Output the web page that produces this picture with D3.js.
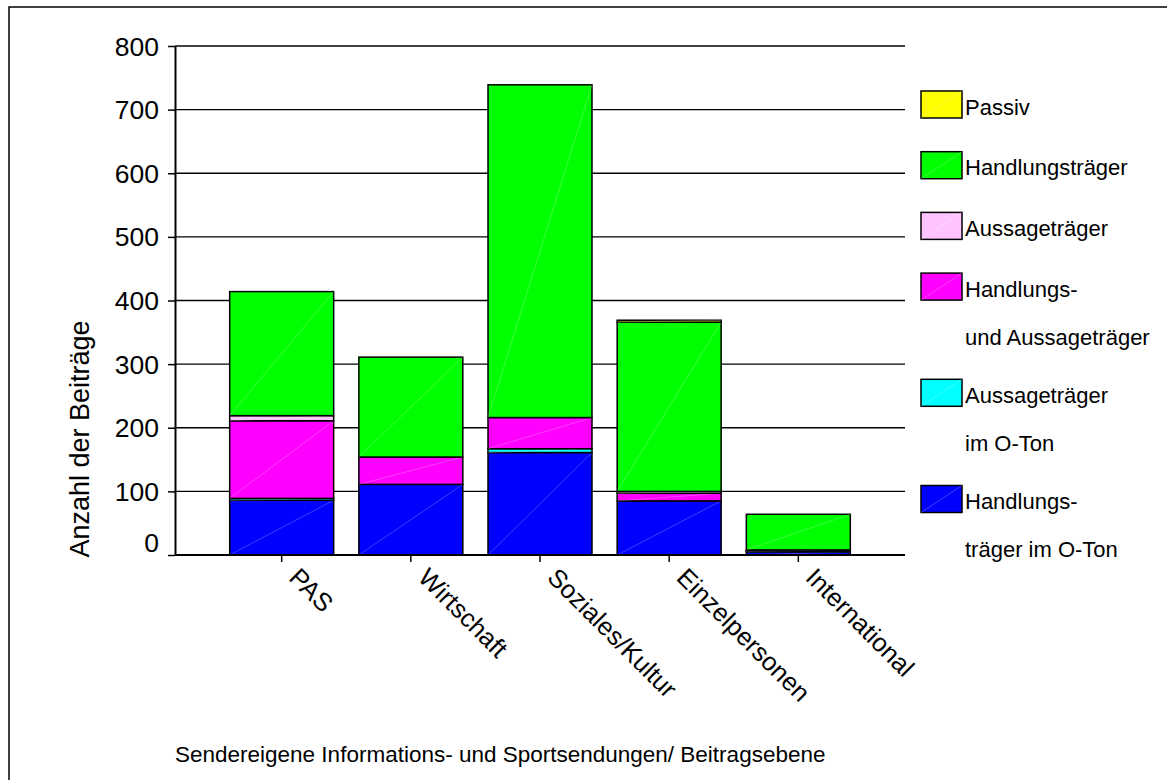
<!DOCTYPE html>
<html>
<head>
<meta charset="utf-8">
<script src="https://cdn.jsdelivr.net/npm/d3@7"></script>
<style>
  html, body { margin: 0; padding: 0; background: #fff; }
  svg { display: block; font-family: "Liberation Sans", Arial, Helvetica, sans-serif; }
</style>
</head>
<body>
<svg id="chart" width="1167" height="780"></svg>
<script>
// ---- data ----
const categories = ["PAS", "Wirtschaft", "Soziales/Kultur", "Einzelpersonen", "International"];

// stack order: bottom -> top
const seriesKeys = ["hoton", "aoton", "hua", "aussage", "handlung", "passiv"];
const handlungstraegerImOTon   = [86, 111, 161, 85, 5];
const aussagetraegerImOTon     = [3, 0, 6, 0, 1];
const handlungsUndAussage      = [122, 43, 49, 12, 2];
const aussagetraeger           = [8, 0, 0, 3, 0];
const handlungstraeger         = [195, 157, 523, 266, 56];
const passiv                   = [0, 0, 0, 3, 0];

const seriesValues = {
  hoton: handlungstraegerImOTon,
  aoton: aussagetraegerImOTon,
  hua: handlungsUndAussage,
  aussage: aussagetraeger,
  handlung: handlungstraeger,
  passiv: passiv
};

const seriesColors = {
  passiv: "#ffff00",
  handlung: "#00ff00",
  aussage: "#ffc4ff",
  hua: "#ff00ff",
  aoton: "#00ffff",
  hoton: "#0000ff"
};

// legend order: top -> bottom
const legendKeys = ["passiv", "handlung", "aussage", "hua", "aoton", "hoton"];
const legendLabels = [
  ["Passiv"],
  ["Handlungsträger"],
  ["Aussageträger"],
  ["Handlungs-", "und Aussageträger"],
  ["Aussageträger", "im O-Ton"],
  ["Handlungs-", "träger im O-Ton"]
];

const yTicks = [0, 100, 200, 300, 400, 500, 600, 700, 800];
const yTitle = "Anzahl der Beiträge";
const footer = "Sendereigene Informations- und Sportsendungen/ Beitragsebene";

// ---- build ----
const svg = d3.select("#chart");
const W = 1167, H = 780;
const plot = { left: 175, right: 905, top: 46, bottom: 555 };

svg.append("rect").attr("width", W).attr("height", H).attr("fill", "#fff");

// outer frame (top + left visible)
svg.append("path")
  .attr("d", `M9,${H + 5} L9,7 L${W + 5},7`)
  .attr("fill", "none").attr("stroke", "#000").attr("stroke-width", 1.5);

const y = d3.scaleLinear().domain([0, 800]).range([plot.bottom, plot.top]);
const x = d3.scaleBand().domain(categories)
  .range([217.1, 862.9]).paddingInner(0.195).paddingOuter(0.0975);

// gridlines
svg.append("g").selectAll("line")
  .data(yTicks.filter(d => d > 0))
  .join("line")
  .attr("x1", plot.left).attr("x2", plot.right)
  .attr("y1", d => y(d)).attr("y2", d => y(d))
  .attr("stroke", "#000").attr("stroke-width", 1.4);

// stack
const rows = categories.map((c, i) => {
  const o = { cat: c };
  seriesKeys.forEach(k => o[k] = seriesValues[k][i]);
  return o;
});
const stacked = d3.stack().keys(seriesKeys)(rows);

const barsG = svg.append("g");
stacked.forEach(layer => {
  const key = layer.key;
  const segs = layer.map((d, i) => ({ y0: d[0], y1: d[1], cat: categories[i] }))
    .filter(d => d.y1 - d.y0 > 0);
  const g = barsG.append("g");
  g.selectAll("rect").data(segs).join("rect")
    .attr("x", d => x(d.cat))
    .attr("width", x.bandwidth())
    .attr("y", d => y(d.y1))
    .attr("height", d => y(d.y0) - y(d.y1))
    .attr("fill", seriesColors[key])
    .attr("stroke", "#000").attr("stroke-width", 1.5);
  g.selectAll("line").data(segs).join("line")
    .attr("x1", d => x(d.cat)).attr("y1", d => y(d.y0))
    .attr("x2", d => x(d.cat) + x.bandwidth()).attr("y2", d => y(d.y1))
    .attr("stroke", "#fff").attr("stroke-opacity", 0.3).attr("stroke-width", 0.8);
});

// y axis
const yAxis = svg.append("g")
  .attr("transform", `translate(${plot.left},0)`)
  .call(d3.axisLeft(y).tickValues(yTicks).tickSize(7).tickSizeOuter(0).tickPadding(9));
yAxis.select(".domain").attr("stroke", "#000").attr("stroke-width", 2);
yAxis.selectAll(".tick line").attr("stroke", "#000").attr("stroke-width", 1.5);
yAxis.selectAll(".tick text")
  .attr("font-size", 26.5).attr("fill", "#000")
  .attr("font-family", "'Liberation Sans', Arial, sans-serif")
  .attr("dy", d => d === 0 ? "-0.12em" : "0.34em");

// x axis
const xAxis = svg.append("g")
  .attr("transform", `translate(0,${plot.bottom})`)
  .call(d3.axisBottom(x).tickSize(7).tickSizeOuter(0));
xAxis.select(".domain").remove();
svg.append("line")
  .attr("x1", plot.left).attr("x2", plot.right)
  .attr("y1", plot.bottom).attr("y2", plot.bottom)
  .attr("stroke", "#000").attr("stroke-width", 2);
xAxis.selectAll(".tick line").attr("stroke", "#000").attr("stroke-width", 1.5);
xAxis.selectAll(".tick text")
  .attr("font-size", 25.5).attr("fill", "#000")
  .attr("font-family", "'Liberation Sans', Arial, sans-serif")
  .attr("text-anchor", "start")
  .attr("y", 0).attr("dy", 0)
  .attr("transform", "translate(6,24) rotate(45)");

// y title
svg.append("text")
  .attr("transform", "translate(89,439) rotate(-90)")
  .attr("text-anchor", "middle")
  .attr("font-size", 27)
  .text(yTitle);

// legend
const lg = svg.append("g");
let legendY = 91;
legendKeys.forEach((k, i) => {
  const lines = legendLabels[i];
  const cy = legendY + 13.5;
  lg.append("rect").attr("x", 921).attr("y", legendY).attr("width", 41).attr("height", 27)
    .attr("fill", seriesColors[k]).attr("stroke", "#000").attr("stroke-width", 1.5);
  lg.append("line").attr("x1", 921).attr("y1", legendY + 27).attr("x2", 962).attr("y2", legendY)
    .attr("stroke", "#fff").attr("stroke-opacity", 0.3).attr("stroke-width", 0.8);
  lines.forEach((t, j) => {
    lg.append("text").attr("x", 965).attr("y", cy + 10 + j * 48)
      .attr("font-size", 22).attr("fill", "#000").text(t);
  });
  legendY += 60.7 + (lines.length - 1) * 45.5;
});

// footer
svg.append("text")
  .attr("x", 175).attr("y", 762)
  .attr("font-size", 22.5).attr("fill", "#000")
  .text(footer);
</script>
</body>
</html>
